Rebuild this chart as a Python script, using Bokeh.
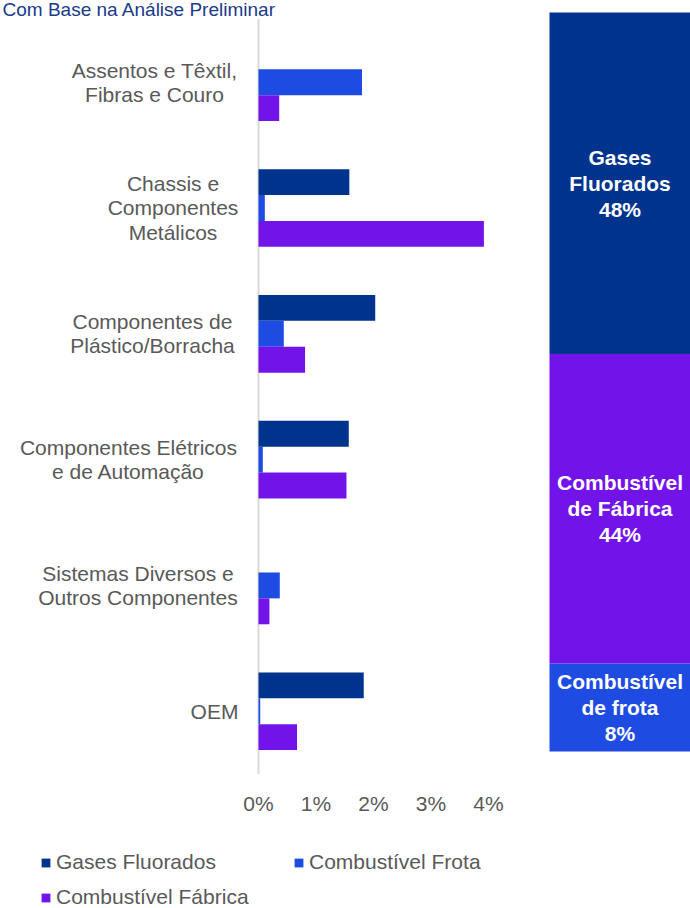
import numpy as np
from bokeh.plotting import figure
from bokeh.models import Range1d, FixedTicker, Legend, LegendItem, ColumnDataSource
from bokeh.layouts import row, column
from bokeh.embed import file_html
from bokeh.resources import INLINE
from bokeh.core.properties import value

# ---------------- data ----------------
title_text = "Com Base na Análise Preliminar"
categories = [
    "Assentos e Têxtil,\nFibras e Couro",
    "Chassis e\nComponentes\nMetálicos",
    "Componentes de\nPlástico/Borracha",
    "Componentes Elétricos\ne de Automação",
    "Sistemas Diversos e\nOutros Componentes",
    "OEM",
]
series_names = ["Gases Fluorados", "Combustível Frota", "Combustível Fábrica"]
gases = [0.0, 1.58, 2.03, 1.57, 0.0, 1.83]
frota = [1.80, 0.11, 0.44, 0.075, 0.37, 0.03]
fabrica = [0.36, 3.92, 0.81, 1.53, 0.19, 0.67]
x_ticks = [0, 1, 2, 3, 4]
x_tick_labels = ["0%", "1%", "2%", "3%", "4%"]

# stacked share bar (bottom to top)
share_labels = ["Combustível\nde frota\n8%", "Combustível\nde Fábrica\n44%", "Gases\nFluorados\n48%"]
share_heights = [11.9, 41.9, 46.2]

# ---------------- style ----------------
NAVY = "#00338D"
BLUE = "#1E4BE1"
PURPLE = "#7213EA"
colors = [NAVY, BLUE, PURPLE]
GREY = "#595959"
FONT = "Liberation Sans"

PX_PER_UNIT = 57.5
X0_PX = 258.0
BAND_PX = 126.3
FIRST_PX = 82.0
FRAME_W, FRAME_H = 540, 777
label_cx_px = [154, 172.5, 152, 128, 137.5, 214]

xr = Range1d(-X0_PX / PX_PER_UNIT, (FRAME_W - X0_PX) / PX_PER_UNIT)
yr = Range1d((FRAME_H - FIRST_PX) / BAND_PX, -FIRST_PX / BAND_PX)

p1 = figure(width=FRAME_W, height=FRAME_H + 40, x_range=xr, y_range=yr,
            output_backend="svg", toolbar_location=None,
            min_border_left=0, min_border_right=0, min_border_top=0, min_border_bottom=40)
p1.outline_line_color = None
p1.grid.visible = False
p1.yaxis.visible = False
p1.background_fill_color = None
p1.border_fill_color = None

ax = p1.xaxis[0]
ax.ticker = FixedTicker(ticks=x_ticks)
ax.major_label_overrides = {t: l for t, l in zip(x_ticks, x_tick_labels)}
ax.axis_line_color = None
ax.major_tick_line_color = None
ax.minor_tick_line_color = None
ax.major_label_text_font = FONT
ax.major_label_text_font_size = "21px"
ax.major_label_text_color = GREY
ax.major_label_standoff = 11

# vertical axis line
p1.segment(x0=[0], y0=[-0.5], x1=[0], y1=[len(categories) - 0.5], line_color="#d9d9d9", line_width=2)

idx = np.arange(len(categories))
bh = 26 / BAND_PX
offsets = [-bh, 0.0, bh]
for vals, off, c in zip([gases, frota, fabrica], offsets, colors):
    p1.hbar(y=idx + off, left=0, right=vals, height=bh, fill_color=c, line_color=None)

lab_src = ColumnDataSource(dict(
    x=(np.array(label_cx_px) - X0_PX) / PX_PER_UNIT,
    y=idx,
    t=categories,
))
p1.text(x="x", y="y", text="t", source=lab_src, text_align="center", text_baseline="middle",
        text_font=value(FONT), text_font_size=value("21px"), text_color=GREY, text_line_height=1.05)

p1.text(x=[(2 - X0_PX) / PX_PER_UNIT], y=[(9 - FIRST_PX) / BAND_PX], text=[title_text],
        text_align="left", text_baseline="middle", text_font=value(FONT),
        text_font_size=value("19px"), text_color="#1a3a8a")

# ---------------- legend figure ----------------
p2 = figure(width=FRAME_W, height=908 - (FRAME_H + 40), x_range=Range1d(0, 1), y_range=Range1d(0, 1),
            output_backend="svg", toolbar_location=None, min_border=0)
p2.outline_line_color = None
p2.grid.visible = False
p2.axis.visible = False
items = []
for name, c in zip(series_names, colors):
    r = p2.hbar(y=[-10], left=[0], right=[0], height=0.1, fill_color=c, line_color=None)
    items.append(LegendItem(label=name, renderers=[r]))
leg = Legend(items=items, location=(40, -1), orientation="horizontal", ncols=2,
             glyph_width=11, glyph_height=11, label_standoff=5, label_width=226, label_height=24,
             spacing=11, padding=0, margin=0, border_line_color=None, background_fill_alpha=0,
             label_text_font=FONT, label_text_font_size="21px", label_text_color=GREY)
p2.add_layout(leg, "center")

# ---------------- stacked share bar ----------------
S = float(sum(share_heights))
p3 = figure(width=150, height=908, x_range=Range1d(-0.5 - 9 / 141, 0.5),
            y_range=Range1d(-157 * S / 739, S + 12 * S / 739),
            output_backend="svg", toolbar_location=None, min_border=0)
p3.outline_line_color = None
p3.grid.visible = False
p3.axis.visible = False
tops = np.cumsum(share_heights)
bottoms = tops - np.array(share_heights)
share_colors = [BLUE, PURPLE, NAVY]
p3.vbar(x=[0] * 3, bottom=bottoms, top=tops, width=1, fill_color=share_colors, line_color=None)
p3.text(x=[0] * 3, y=(tops + bottoms) / 2, text=share_labels, text_align="center", text_baseline="middle",
        text_font=value(FONT), text_font_size=value("21px"), text_font_style="bold",
        text_color="white", text_line_height=1.13)

layout = row(column(p1, p2, spacing=0), p3, spacing=0)

open("out.html", "w").write(file_html(layout, INLINE))
